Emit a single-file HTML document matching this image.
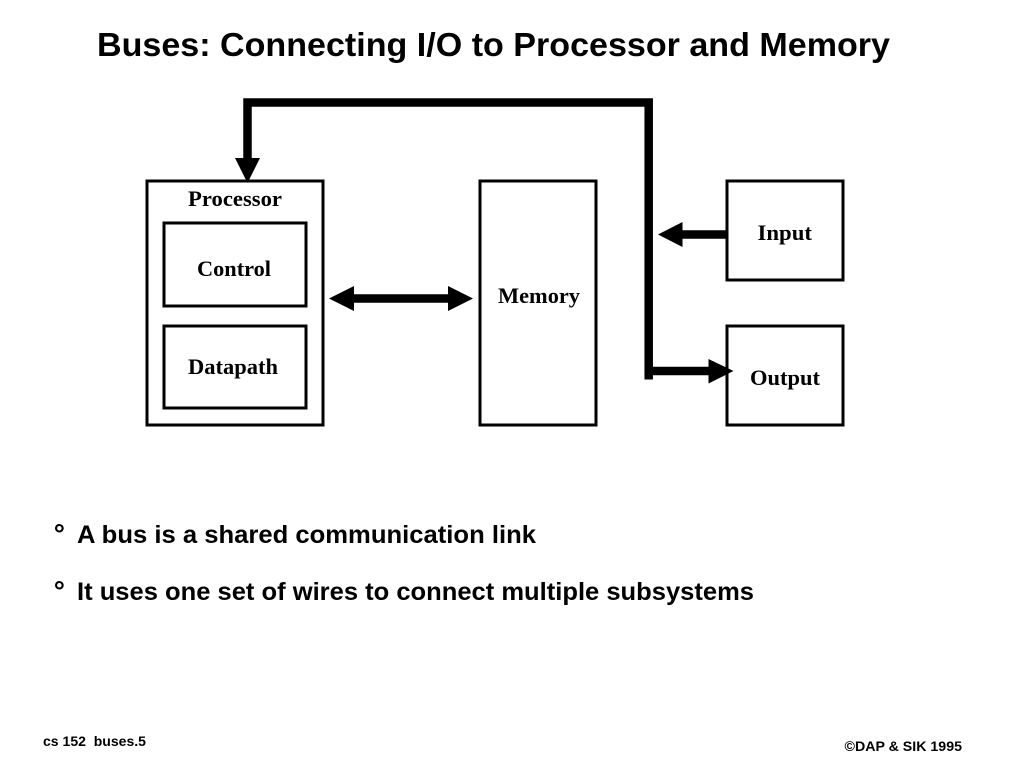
<!DOCTYPE html>
<html>
<head>
<meta charset="utf-8">
<style>
html,body{margin:0;padding:0;background:#fff;}
svg{display:block;}
.h{font-family:"Liberation Sans",sans-serif;font-weight:bold;fill:#000;white-space:pre;}
.s{font-family:"Liberation Serif",serif;font-weight:bold;fill:#000;font-size:22.5px;}
</style>
</head>
<body>
<svg width="1024" height="768" viewBox="0 0 1024 768" xmlns="http://www.w3.org/2000/svg">
<rect width="1024" height="768" fill="#fff"/>
<text x="97" y="56" class="h" font-size="33.5" textLength="793" lengthAdjust="spacingAndGlyphs">Buses: Connecting I/O to Processor and Memory</text>

<g fill="none" stroke="#000" stroke-width="3">
<rect x="147" y="181" width="176" height="244"/>
<rect x="164" y="223" width="142" height="83"/>
<rect x="164" y="326" width="142" height="82"/>
<rect x="480" y="181" width="116" height="244"/>
<rect x="727" y="181" width="116" height="99"/>
<rect x="727" y="326" width="116" height="99"/>
</g>

<g fill="none" stroke="#000" stroke-width="8.5">
<path d="M247.5 160 V102.5 H648.7 V379.5"/>
<path d="M649 371 H710"/>
<path d="M726 234.5 H680"/>
<path d="M350 298.5 H450"/>
</g>

<g fill="#000">
<polygon points="235,158 260,158 247.5,183"/>
<polygon points="658,234.5 682.5,222 682.5,247"/>
<polygon points="708.5,359 733.5,371 708.5,383.5"/>
<polygon points="329,298.5 354,286 354,311"/>
<polygon points="473,298.5 448,286 448,311"/>
</g>

<text x="188" y="206" class="s" textLength="94" lengthAdjust="spacingAndGlyphs">Processor</text>
<text x="197" y="276" class="s" textLength="74" lengthAdjust="spacingAndGlyphs">Control</text>
<text x="188" y="374" class="s" textLength="90" lengthAdjust="spacingAndGlyphs">Datapath</text>
<text x="498" y="303" class="s" textLength="82" lengthAdjust="spacingAndGlyphs">Memory</text>
<text x="757.5" y="240" class="s" textLength="54.5" lengthAdjust="spacingAndGlyphs">Input</text>
<text x="750" y="385" class="s" textLength="70" lengthAdjust="spacingAndGlyphs">Output</text>

<text x="53.7" y="543.4" class="h" font-size="28">°</text>
<text x="77" y="543" class="h" font-size="25" textLength="459" lengthAdjust="spacingAndGlyphs">A bus is a shared communication link</text>
<text x="53.7" y="600.4" class="h" font-size="28">°</text>
<text x="77" y="600" class="h" font-size="25" textLength="677" lengthAdjust="spacingAndGlyphs">It uses one set of wires to connect multiple subsystems</text>

<text x="43" y="746" class="h" font-size="14" textLength="103" lengthAdjust="spacingAndGlyphs" xml:space="preserve">cs 152  buses.5</text>
<text x="844.5" y="751" class="h" font-size="14" textLength="117.5" lengthAdjust="spacingAndGlyphs">©DAP &amp; SIK 1995</text>
</svg>
</body>
</html>
